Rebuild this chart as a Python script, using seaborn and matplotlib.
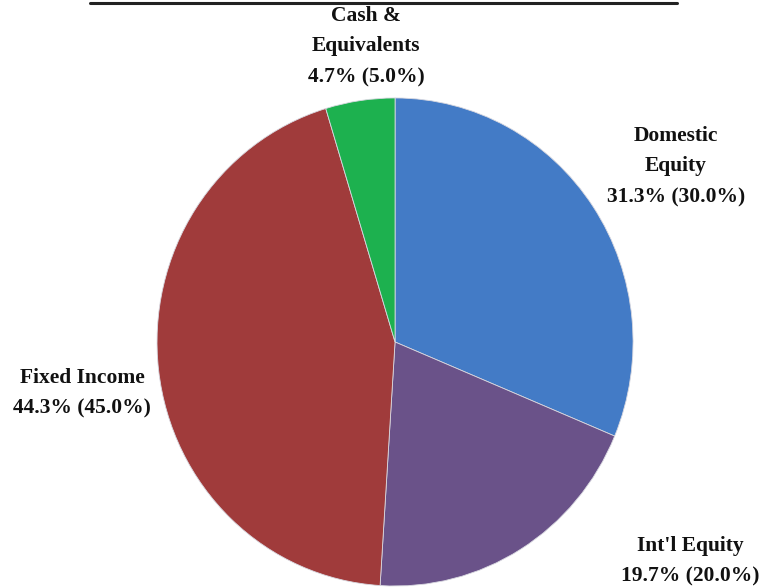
import matplotlib
matplotlib.use("Agg")
import matplotlib.pyplot as plt
import seaborn as sns
from matplotlib.lines import Line2D

categories = ["Domestic\nEquity", "Int'l Equity", "Fixed Income", "Cash &\nEquivalents"]
actual = [31.3, 19.7, 44.3, 4.7]
target = [30.0, 20.0, 45.0, 5.0]
colors = ["#437BC6", "#6A5289", "#A03B3B", "#1DB14F"]

sns.set_theme(style="white")
plt.rcParams['font.family'] = ['Liberation Serif', 'DejaVu Serif']

fig = plt.figure(figsize=(7.63, 5.88), dpi=100)
ax = fig.add_axes([0.2058, 0.0034, 0.6239, 0.830])
ax.pie(actual, colors=colors, startangle=90, counterclock=False,
       radius=1.0, wedgeprops=dict(linewidth=0.6, edgecolor="#d8d8e0"))
ax.set_xlim(-1.0, 1.0)
ax.set_ylim(-1.0, 1.0)
ax.set_aspect('auto')
ax.axis('off')

# label positions in figure pixel coordinates (center x, top-of-block y from top)
label_pos = [(676, 126), (690, 536), (82, 368), (366, 6)]
W, H = 763, 588
for cat, a, t, (px, py) in zip(categories, actual, target, label_pos):
    txt = f"{cat}\n{a:.1f}% ({t:.1f}%)"
    fig.text(px / W, 1 - py / H, txt, ha="center", va="top",
             fontsize=15.5, fontweight="bold", color="#111111",
             linespacing=1.7)

# underline of clipped title at top
fig.add_artist(Line2D([90 / W, 677 / W], [1 - 3 / H, 1 - 3 / H],
                      color="#222222", linewidth=2.2))

fig.savefig("out.png", dpi=100)
